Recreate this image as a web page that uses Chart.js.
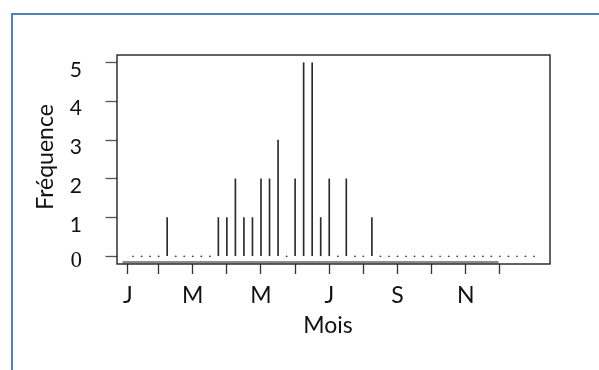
<!DOCTYPE html>
<html>
<head>
<meta charset="utf-8">
<script src="https://cdn.jsdelivr.net/npm/chart.js@4.4.0/dist/chart.umd.min.js"></script>
<style>
html, body { margin: 0; padding: 0; background: #fff; overflow: hidden; }
#wrap { position: relative; width: 599px; height: 370px; overflow: hidden; }
#frame { position: absolute; left: 11px; top: 13px; width: 700px; height: 500px; border: 2px solid #4f81bd; }
canvas { position: absolute; left: 0; top: 0; }
</style>
</head>
<body>
<div id="wrap"><div id="frame"></div><canvas id="c" width="599" height="370"></canvas></div>
<script>
// x: month position, four steps per month
var periodes = [1.25, 1.5, 1.75, 2, 2.25, 2.5, 2.75, 3, 3.25, 3.5, 3.75, 4,
                4.25, 4.5, 4.75, 5, 5.25, 5.5, 5.75, 6, 6.25, 6.5, 6.75, 7,
                7.25, 7.5, 7.75, 8, 8.25, 8.5, 8.75, 9, 9.25, 9.5, 9.75, 10,
                10.25, 10.5, 10.75, 11, 11.25, 11.5, 11.75, 12, 12.25, 12.5, 12.75, 13];
var frequence = [0, 0, 0, 0, 1, 0, 0, 0, 0, 0, 1, 1,
                 2, 1, 1, 2, 2, 3, 0, 2, 5, 5, 1, 2,
                 0, 2, 0, 0, 1, 0, 0, 0, 0, 0, 0, 0,
                 0, 0, 0, 0, 0, 0, 0, 0, 0, 0, 0, 0];
var moisTicks = [1.1, 2, 3, 4, 5, 6, 7, 8, 9, 10, 11, 12];
var moisLabels = ['J', '', 'M', '', 'M', '', 'J', '', 'S', '', 'N', ''];
var freqTicks = [0, 1, 2, 3, 4, 5];
var axeGris = [0.94, 11.96];

var sans = 'Lato, "Open Sans", sans-serif';

var points = periodes.map(function (x, i) { return { x: x, y: frequence[i] }; });
var zeros = points.filter(function (p) { return p.y === 0; });

var cadre = {
    id: 'cadre',
    afterDraw: function (chart) {
        var c = chart.ctx, a = chart.chartArea;
        var xs = chart.scales.x, ys = chart.scales.y;
        c.save();
        // thick grey line along the bottom
        c.strokeStyle = '#8a8a8a';
        c.lineWidth = 2.5;
        c.beginPath();
        c.moveTo(xs.getPixelForValue(axeGris[0]), a.bottom - 1.8);
        c.lineTo(xs.getPixelForValue(axeGris[1]), a.bottom - 1.8);
        c.stroke();
        // box
        c.strokeStyle = '#222';
        c.lineWidth = 1.4;
        c.strokeRect(a.left, a.top, a.right - a.left, a.bottom - a.top);
        // tick labels
        c.fillStyle = '#111';
        c.textAlign = 'right';
        c.textBaseline = 'alphabetic';
        freqTicks.forEach(function (v) {
            var y = ys.getPixelForValue(v);
            if (v === 0) {
                c.font = '23px "Liberation Serif", serif';
                c.fillText('0', 82, y + 11);
            } else {
                c.font = '21px ' + sans;
                c.fillText(String(v), 82, y + 14);
            }
        });
        c.textAlign = 'center';
        c.font = '23px ' + sans;
        moisTicks.forEach(function (v, i) {
            if (moisLabels[i]) c.fillText(moisLabels[i], xs.getPixelForValue(v), 303);
        });
        // axis titles
        c.textBaseline = 'middle';
        c.fillText('Mois', 328, 326);
        c.translate(46, 157);
        c.rotate(-Math.PI / 2);
        c.fillText('Fréquence', 0, 0);
        c.restore();
    }
};

var ctx = document.getElementById('c');
new Chart(ctx, {
    type: 'bar',
    data: {
        datasets: [{
            type: 'bar',
            data: points,
            backgroundColor: '#2a2a2a',
            borderWidth: 0,
            barThickness: 1
        }, {
            type: 'scatter',
            data: zeros,
            pointRadius: 0.8,
            pointBackgroundColor: '#444',
            pointBorderWidth: 0
        }]
    },
    options: {
        responsive: false,
        animation: false,
        layout: { padding: { left: 0, top: 55, right: 49, bottom: 0 } },
        plugins: { legend: { display: false }, tooltip: { enabled: false } },
        scales: {
            x: {
                type: 'linear',
                offset: false,
                min: 0.78,
                max: 13.47,
                afterBuildTicks: function (s) { s.ticks = moisTicks.map(function (v) { return { value: v }; }); },
                afterFit: function (s) { s.height = 106; },
                ticks: { display: false },
                grid: { offset: false, drawOnChartArea: false, tickLength: 10, color: '#333', tickWidth: 1.3 },
                border: { display: false }
            },
            y: {
                min: -0.2,
                max: 5.2,
                afterBuildTicks: function (s) { s.ticks = freqTicks.map(function (v) { return { value: v }; }); },
                afterFit: function (s) { s.width = 117; },
                ticks: { display: false },
                grid: { drawOnChartArea: false, tickLength: 11.5, color: '#555', tickWidth: 1.3 },
                border: { display: false }
            }
        }
    },
    plugins: [cadre]
});
</script>
</body>
</html>
